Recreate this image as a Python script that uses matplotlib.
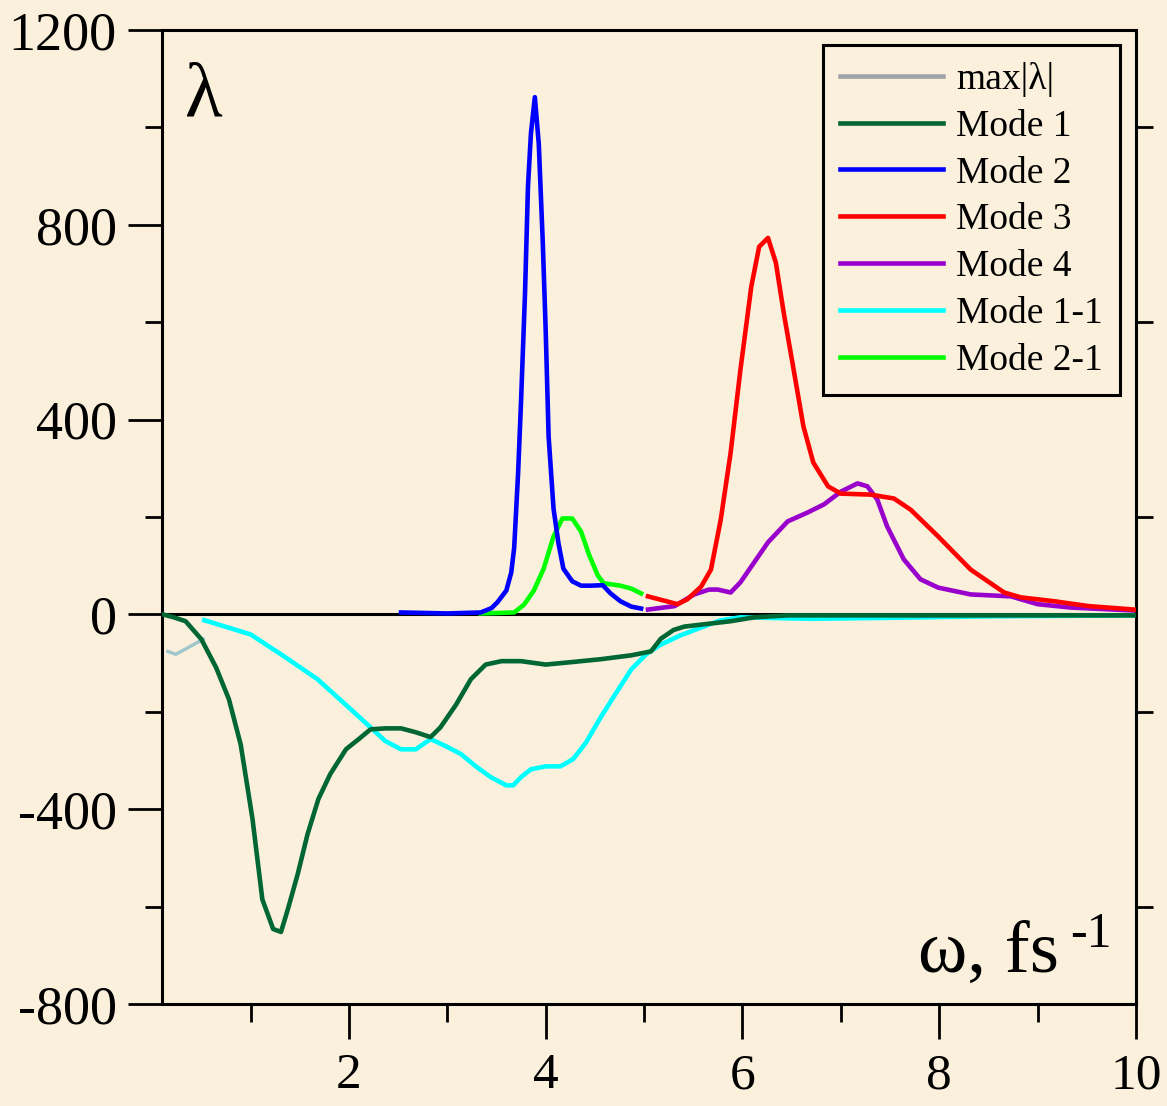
import matplotlib
matplotlib.use("Agg")
import matplotlib.pyplot as plt
from matplotlib.lines import Line2D
from matplotlib.ticker import FixedLocator

# ---------------- data ----------------
maxl_x = [0.16, 0.24, 0.52]
maxl_y = [-76, -82, -51]

m1_x = [0.11, 0.22, 0.34, 0.50, 0.65, 0.78, 0.90, 1.02, 1.12, 1.23, 1.31, 1.38, 1.48, 1.58, 1.69, 1.81,
        1.97, 2.10, 2.22, 2.37, 2.53, 2.68, 2.83, 2.93, 3.09, 3.24, 3.39, 3.55, 3.75, 4.00, 4.26,
        4.56, 4.87, 5.07, 5.17, 5.30, 5.41, 5.58, 5.88, 6.12, 6.46, 7.0, 8.0, 9.0, 10.0]
m1_y = [0, -6, -14, -51, -109, -174, -267, -420, -585, -646, -652, -605, -533, -451, -379, -328,
        -277, -256, -236, -234, -234, -242, -252, -232, -185, -133, -103, -96, -96, -103, -98,
        -92, -84, -76, -50, -32, -25, -21, -14, -6, -2, -2, -2, -2, -2]

m11_x = [0.53, 1.00, 1.34, 1.68, 2.02, 2.22, 2.37, 2.53, 2.68, 2.83, 2.99, 3.14, 3.29, 3.44, 3.60,
         3.67, 3.75, 3.85, 4.00, 4.15, 4.28, 4.41, 4.56, 4.72, 4.87, 5.02, 5.17, 5.37, 5.58, 5.78,
         5.98, 6.7, 7.5, 8.5, 10.0]
m11_y = [-12, -41, -86, -133, -195, -232, -260, -277, -277, -256, -271, -287, -312, -334, -351,
         -351, -334, -318, -312, -312, -297, -263, -211, -160, -113, -82, -62, -43, -27, -12,
         -6, -9, -7, -4, -2]

m2_x = [2.53, 3.00, 3.34, 3.45, 3.51, 3.60, 3.65, 3.68, 3.72, 3.75, 3.79, 3.82, 3.85, 3.89, 3.93,
        3.97, 4.00, 4.03, 4.08, 4.13, 4.18, 4.27, 4.36, 4.46, 4.58, 4.66, 4.76, 4.87, 4.97]
m2_y = [4, 2, 4, 13, 25, 49, 86, 137, 291, 439, 659, 878, 987, 1062, 966,
        767, 585, 365, 217, 146, 94, 68, 59, 59, 60, 43, 27, 16, 12]

m21_x = [3.34, 3.68, 3.78, 3.88, 3.98, 4.08, 4.17, 4.27, 4.36, 4.44, 4.53, 4.59, 4.76, 4.87, 4.97]
m21_y = [2, 4, 20, 49, 94, 160, 197, 197, 170, 123, 80, 64, 59, 53, 43]

m3_x = [5.04, 5.34, 5.44, 5.58, 5.68, 5.78, 5.88, 5.98, 6.09, 6.17, 6.26, 6.34, 6.42, 6.52, 6.62,
        6.72, 6.87, 7.00, 7.30, 7.54, 7.71, 7.99, 8.32, 8.66, 8.83, 9.17, 9.52, 9.98]
m3_y = [37, 21, 31, 57, 92, 195, 332, 503, 673, 755, 773, 722, 619, 503, 386,
        312, 263, 248, 246, 238, 215, 160, 92, 45, 35, 27, 17, 10]

m4_x = [5.04, 5.31, 5.51, 5.66, 5.75, 5.88, 5.98, 6.12, 6.26, 6.46, 6.66, 6.83, 7.00, 7.17, 7.27,
        7.37, 7.47, 7.64, 7.81, 7.99, 8.32, 8.73, 9.00, 9.34, 9.98]
m4_y = [10, 17, 41, 51, 51, 45, 66, 107, 148, 191, 209, 226, 252, 269, 263,
        236, 181, 113, 72, 55, 41, 37, 21, 14, 8]

legend_labels = ["max|\u03bb|", "Mode 1", "Mode 2", "Mode 3", "Mode 4", "Mode 1-1", "Mode 2-1"]
colors = ["#a0a4a8", "#006633", "#0000ff", "#ff0000", "#9900cc", "#00ffff", "#00ff00"]
x_ticks = [2, 4, 6, 8, 10]
y_ticks = [-800, -400, 0, 400, 800, 1200]

# ---------------- styling ----------------
BG = "#faf0dc"
plt.rcParams['font.family'] = ['Liberation Serif', 'DejaVu Serif']

fig = plt.figure(figsize=(11.67, 11.06), dpi=100, facecolor=BG)
ax = fig.add_axes([0.1388, 0.0922, 0.8346, 0.8807], facecolor=BG)

LW = 3.3
ax.axhline(0, color='black', lw=2.2, zorder=1)
ax.plot(maxl_x, maxl_y, color="#9fc6cc", lw=2.4, zorder=2, solid_joinstyle='round')
ax.plot(m1_x, m1_y, color=colors[1], lw=LW, zorder=3, solid_joinstyle='round')
ax.plot(m11_x, m11_y, color=colors[5], lw=LW, zorder=2, solid_joinstyle='round')
ax.plot(m2_x, m2_y, color=colors[2], lw=LW, zorder=3, solid_joinstyle='round')
ax.plot(m21_x, m21_y, color=colors[6], lw=LW, zorder=2, solid_joinstyle='round')
ax.plot(m3_x, m3_y, color=colors[3], lw=LW, zorder=3, solid_joinstyle='round')
ax.plot(m4_x, m4_y, color=colors[4], lw=LW, zorder=2, solid_joinstyle='round')

ax.set_xlim(0.1, 10)
ax.set_ylim(-800, 1200)

for s in ax.spines.values():
    s.set_linewidth(2.2)

ax.xaxis.set_major_locator(FixedLocator(x_ticks))
ax.xaxis.set_minor_locator(FixedLocator([1, 3, 5, 7, 9]))
ax.yaxis.set_major_locator(FixedLocator(y_ticks))
ax.yaxis.set_minor_locator(FixedLocator([-600, -200, 200, 600, 1000]))
ax.set_xticklabels([str(v) for v in x_ticks])
ax.set_yticklabels([str(v) for v in y_ticks])

ax.tick_params(axis='x', which='major', direction='out', length=25, width=2, labelsize=37, pad=10)
ax.tick_params(axis='x', which='minor', direction='out', length=13, width=2)
ax.tick_params(axis='y', which='major', direction='out', length=24.5, width=2, labelsize=39, pad=8,
               left=True, right=False)
ax.tick_params(axis='y', which='minor', direction='out', length=12, width=2, left=True, right=True)

ax.text(0.0425, 0.930, "\u03bb", transform=ax.transAxes, fontsize=56, ha='center', va='center')

ax.text(0.776, 0.0329, "\u03c9, fs", transform=ax.transAxes, fontsize=54,
        ha='left', va='baseline')
ax.text(0.932, 0.0585, "-1", transform=ax.transAxes, fontsize=36, ha='left', va='baseline')

handles = [Line2D([], [], color=c, lw=LW) for c in colors]
leg = ax.legend(handles, legend_labels, loc='upper right', bbox_to_anchor=(0.9836, 0.9846),
                borderaxespad=0, fontsize=27, handlelength=2.75, handletextpad=0.35,
                labelspacing=0.33, borderpad=0.45, frameon=True, fancybox=False,
                facecolor=BG, edgecolor='black', framealpha=1)
leg.get_frame().set_linewidth(2.2)

fig.savefig("out.png", dpi=100, facecolor=BG)
